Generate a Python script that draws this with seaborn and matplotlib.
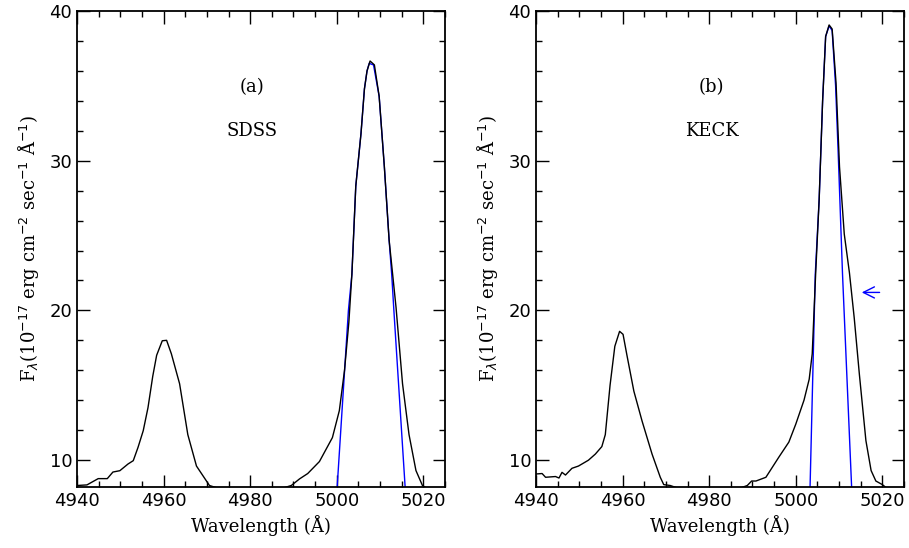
import matplotlib
matplotlib.use("Agg")
import matplotlib.pyplot as plt
import seaborn as sns
import pandas as pd

# SDSS spectrum (black) and gaussian fit (blue)
sdss_wave = [4940, 4942.3, 4944.9, 4947.0, 4948.3, 4949.9, 4951.8, 4953.0, 4954.1, 4955.3,
             4956.4, 4957.5, 4958.4, 4959.7, 4960.7, 4961.8, 4963.7, 4965.6, 4967.6, 4970.6,
             4975, 4980, 4985, 4989.5, 4991.4, 4993.3, 4996.0, 4999.0, 5000.6, 5001.8,
             5002.8, 5003.5, 5004.4, 5005.6, 5006.4, 5007.0, 5007.7, 5008.7, 5009.8, 5011.0,
             5012.1, 5013.7, 5015.2, 5016.7, 5018.3, 5019.8, 5022, 5025]
sdss_flux = [8.3, 8.34, 8.76, 8.76, 9.2, 9.29, 9.74, 9.96, 10.85, 11.96,
             13.5, 15.6, 17.0, 17.97, 18.0, 17.1, 15.1, 11.7, 9.6, 8.3,
             7.9, 7.8, 7.9, 8.3, 8.74, 9.1, 9.9, 11.5, 13.3, 16.0,
             19.2, 22.4, 28.3, 31.8, 34.8, 36.0, 36.66, 36.4, 34.3, 29.6,
             24.7, 20.2, 15.1, 11.7, 9.3, 8.3, 7.9, 7.8]
sdss_fit_wave = [5000.1, 5002.7, 5003.5, 5004.4, 5005.6, 5006.4, 5007.0, 5007.5, 5008.5,
                 5009.8, 5011.0, 5012.1, 5012.7, 5013.2, 5015.8]
sdss_fit_flux = [8.2, 20.0, 22.4, 28.3, 31.8, 34.8, 36.0, 36.5, 36.4,
                 34.3, 29.6, 24.7, 22.4, 20.0, 8.2]

# KECK spectrum (black) and gaussian fit (blue)
keck_wave = [4940, 4941.4, 4942.2, 4944.5, 4945.3, 4946.0, 4946.8, 4948.3, 4949.8, 4952.1,
             4953.7, 4955.2, 4956.0, 4957.1, 4958.2, 4959.3, 4960.1, 4961.0, 4962.6, 4964.5,
             4966.8, 4968.7, 4969.5, 4971.0, 4975, 4980, 4985, 4988.8, 4989.8, 4990.8,
             4993.1, 4996.1, 4998.4, 5000.0, 5001.9, 5003.1, 5003.8, 5004.6, 5005.4, 5006.2,
             5006.9, 5007.7, 5008.4, 5009.3, 5010.1, 5011.2, 5012.4, 5013.5, 5014.7, 5016.2,
             5017.4, 5018.5, 5020.0, 5022, 5025]
keck_flux = [9.07, 9.1, 8.85, 8.9, 8.8, 9.18, 9.0, 9.45, 9.6, 9.99,
             10.4, 10.9, 11.7, 15.0, 17.6, 18.6, 18.4, 17.0, 14.6, 12.6,
             10.4, 8.85, 8.36, 8.3, 7.9, 7.8, 7.9, 8.3, 8.6, 8.6,
             8.85, 10.2, 11.2, 12.4, 14.0, 15.4, 17.1, 22.5, 27.4, 34.0,
             38.3, 39.07, 38.8, 35.2, 29.6, 25.1, 22.5, 19.5, 15.7, 11.3,
             9.3, 8.6, 8.36, 7.9, 7.8]
keck_fit_wave = [5003.3, 5004.5, 5005.4, 5006.2, 5006.9, 5007.7, 5008.4, 5009.2, 5009.8,
                 5010.8, 5012.9]
keck_fit_flux = [8.2, 22.4, 27.4, 34.0, 38.3, 39.0, 38.7, 35.0, 30.5,
                 22.4, 8.2]

panels = [
    ("(a)", "SDSS", sdss_wave, sdss_flux, sdss_fit_wave, sdss_fit_flux),
    ("(b)", "KECK", keck_wave, keck_flux, keck_fit_wave, keck_fit_flux),
]

sns.set_style("ticks")
plt.rcParams["font.family"] = ["DejaVu Serif"]
plt.rcParams["text.color"] = "black"
plt.rcParams["axes.labelcolor"] = "black"
plt.rcParams["xtick.color"] = "black"
plt.rcParams["ytick.color"] = "black"
plt.rcParams["axes.edgecolor"] = "black"

fig = plt.figure(figsize=(9.09, 5.48), dpi=100)
lefts = [0.0847, 0.5897]
width = 0.4048
ylabel = r"F$_\lambda$(10$^{-17}$ erg cm$^{-2}$ sec$^{-1}$ Å$^{-1}$)"

for i, (tag, name, w, f, fw, ff) in enumerate(panels):
    ax = fig.add_axes([lefts[i], 0.1113, width, 0.8686])
    spec = pd.DataFrame({"wave": w, "flux": f})
    fit = pd.DataFrame({"wave": fw, "flux": ff})
    sns.lineplot(data=fit, x="wave", y="flux", ax=ax, color="blue", lw=1.0,
                 sort=False, estimator=None)
    sns.lineplot(data=spec, x="wave", y="flux", ax=ax, color="black", lw=1.0,
                 sort=False, estimator=None)
    ax.set_xlim(4940, 5025)
    ax.set_ylim(8.2, 40)
    ax.set_xticks([4940, 4960, 4980, 5000, 5020])
    ax.set_xticks(range(4940, 5026, 5), minor=True)
    ax.set_yticks([10, 20, 30, 40])
    ax.set_yticks(range(10, 41, 2), minor=True)
    ax.tick_params(which="both", direction="in", top=True, right=True,
                   labelsize=13, width=1.0, colors="black")
    ax.tick_params(which="major", length=9)
    ax.tick_params(which="minor", length=4.5)
    for lab in ax.get_xticklabels() + ax.get_yticklabels():
        lab.set_family("DejaVu Sans")
    for s in ax.spines.values():
        s.set_linewidth(1.3)
        s.set_color("black")
    ax.set_xlabel("Wavelength (Å)", fontsize=13, labelpad=4)
    ax.set_ylabel(ylabel, fontsize=13, labelpad=6)
    ax.text(4980.5, 34.9, tag, ha="center", va="center", fontsize=13)
    ax.text(4980.5, 32.0, name, ha="center", va="center", fontsize=13)
    if name == "KECK":
        ax.annotate("", xy=(5014.6, 21.2), xytext=(5020.0, 21.2),
                    arrowprops=dict(arrowstyle="->", color="blue", lw=1.0,
                                    mutation_scale=20))

fig.savefig("out.png", dpi=100)
